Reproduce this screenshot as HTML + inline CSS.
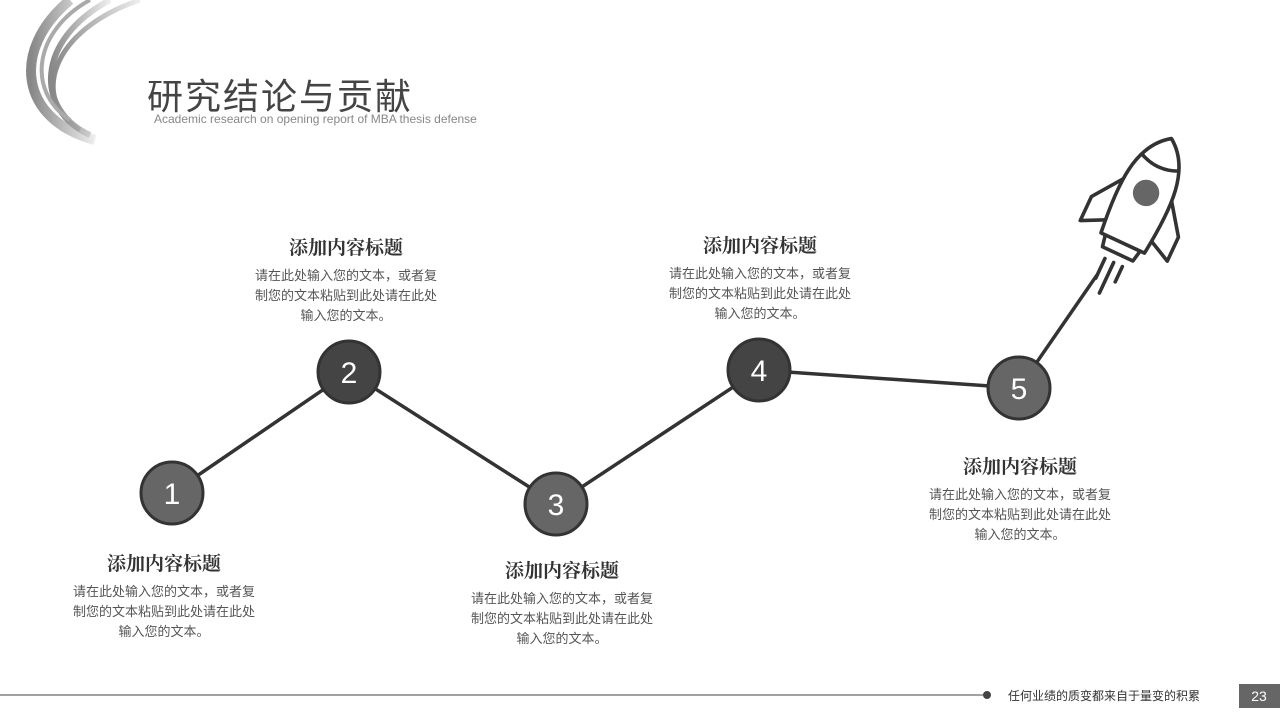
<!DOCTYPE html>
<html><head><meta charset="utf-8"><style>
body{margin:0;width:1280px;height:720px;background:#fff;position:relative;overflow:hidden;font-family:"Liberation Sans","Noto Sans CJK SC",sans-serif}
.t{position:absolute;width:220px;text-align:center}
.t h3{margin:0 0 6px;font:bold 19px "Liberation Serif","Noto Serif CJK SC",serif;color:#333}
.t p{margin:0;font-size:13px;line-height:20px;color:#555}
</style></head><body>
<svg width="1280" height="720" style="position:absolute;left:0;top:0">
<defs><linearGradient id="g" x1="0" y1="0" x2="1" y2="0"><stop offset="0" stop-color="#888"/><stop offset="1" stop-color="#eee"/></linearGradient></defs>
<g fill="none" stroke="url(#g)">
<path d="M95 140 C20 120 10 50 70 0" stroke-width="10"/>
<path d="M90 135 C35 110 35 40 110 0" stroke-width="6"/>
<path d="M80 130 C30 100 50 30 140 0" stroke-width="5"/>
<path d="M70 120 C25 90 35 30 90 0" stroke-width="4" stroke="#aaa"/>
</g>
<g stroke="#333" stroke-width="3.5" fill="none">
<polyline points="172,493 349,372 556,504 759,370 1019,388 1097,275"/>
</g>
<g stroke="#333" stroke-width="3">
<circle cx="172" cy="493" r="31" fill="#666"/>
<circle cx="349" cy="372" r="31" fill="#444"/>
<circle cx="556" cy="504" r="31" fill="#666"/>
<circle cx="759" cy="370" r="31" fill="#444"/>
<circle cx="1019" cy="388" r="31" fill="#666"/>
</g>
<g fill="#fff" font-size="30" text-anchor="middle" font-family="Liberation Sans,sans-serif">
<text x="172" y="504">1</text><text x="349" y="383">2</text><text x="556" y="515">3</text><text x="759" y="381">4</text><text x="1019" y="399">5</text>
</g>
<g transform="translate(1140,206) rotate(25) scale(1.2)" stroke="#333" stroke-width="3" fill="#fff" stroke-linejoin="round">
<path d="M-22 -15 L-40 10 L-40 32 L-20 22 Z"/>
<path d="M22 -15 L40 10 L40 32 L20 22 Z"/>
<path d="M-16 34 L16 34 L14 44 L-14 44 Z"/>
<path d="M0 -62 C25 -45 25 -10 20 34 L-20 34 C-25 -10 -25 -45 0 -62 Z"/>
<path d="M-17 -40 Q0 -32 17 -40" fill="none"/>
<circle cx="0" cy="-12" r="11" fill="#666" stroke="none"/>
<g stroke-linecap="round"><line x1="-8" y1="52" x2="-8" y2="70"/><line x1="0" y1="52" x2="0" y2="80"/><line x1="8" y1="52" x2="8" y2="66"/></g>
</g>
<line x1="0" y1="695" x2="985" y2="695" stroke="#444" stroke-width="1"/>
<circle cx="987" cy="695" r="4" fill="#444"/>
<rect x="1239" y="684" width="41" height="24" fill="#666"/>
<text x="1259" y="701" fill="#fff" font-size="14" text-anchor="middle" font-family="Liberation Sans,sans-serif">23</text>
</svg>
<div style="position:absolute;left:147px;top:68px;font-size:36px;color:#444;letter-spacing:2px;font-family:'Liberation Sans','Noto Sans CJK SC',sans-serif">研究结论与贡献</div>
<div style="position:absolute;left:154px;top:112px;font-size:12px;color:#888">Academic research on opening report of MBA thesis defense</div>
<div style="position:absolute;left:1008px;top:687px;font-size:12px;color:#333">任何业绩的质变都来自于量变的积累</div>
<div class="t" style="left:236px;top:233px"><h3>添加内容标题</h3><p>请在此处输入您的文本，或者复<br>制您的文本粘贴到此处请在此处<br>输入您的文本。</p></div>
<div class="t" style="left:650px;top:231px"><h3>添加内容标题</h3><p>请在此处输入您的文本，或者复<br>制您的文本粘贴到此处请在此处<br>输入您的文本。</p></div>
<div class="t" style="left:54px;top:549px"><h3>添加内容标题</h3><p>请在此处输入您的文本，或者复<br>制您的文本粘贴到此处请在此处<br>输入您的文本。</p></div>
<div class="t" style="left:452px;top:556px"><h3>添加内容标题</h3><p>请在此处输入您的文本，或者复<br>制您的文本粘贴到此处请在此处<br>输入您的文本。</p></div>
<div class="t" style="left:910px;top:452px"><h3>添加内容标题</h3><p>请在此处输入您的文本，或者复<br>制您的文本粘贴到此处请在此处<br>输入您的文本。</p></div>
</body></html>
